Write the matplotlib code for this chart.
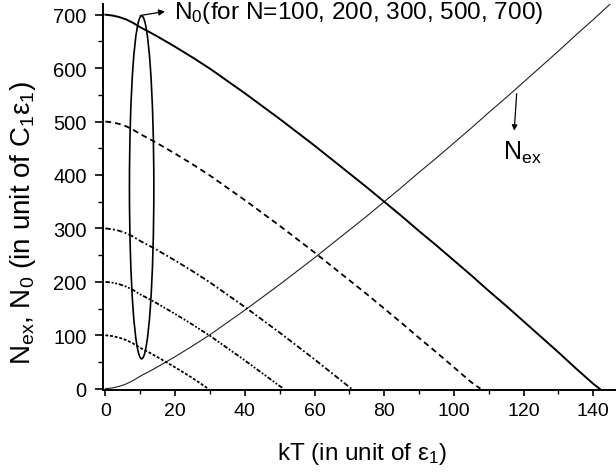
import matplotlib
matplotlib.use("Agg")
import matplotlib.pyplot as plt
from matplotlib.patches import Ellipse

plt.rcParams['font.family'] = ['Liberation Sans', 'DejaVu Sans']
plt.rcParams['mathtext.fontset'] = 'custom'
plt.rcParams['mathtext.rm'] = 'Liberation Sans'
plt.rcParams['mathtext.it'] = 'Liberation Sans'
plt.rcParams['mathtext.default'] = 'regular'

# ---- data ----
kT = [0, 2, 4, 6, 8, 10, 12.5, 15, 20, 25, 30, 35, 40, 45, 50, 55, 60, 65,
      70, 75, 80, 85, 90, 95, 100, 105, 110, 115, 120, 125, 130, 135, 140, 145]
N_ex = [0, 1.5, 4.5, 9, 15.5, 23.5, 32, 41, 60, 80, 101, 124, 147, 171, 195,
        220, 245, 271, 297, 323, 350, 377, 405, 432, 460, 488, 517, 545, 574,
        603, 632, 662, 691, 721]

kT_100 = [0, 2, 4, 6, 8, 10, 12.5, 15, 20, 25, 29.5]
N0_100 = [100, 98.5, 95.5, 91, 84.5, 76.5, 68, 59, 40, 20, 0]

kT_200 = [0, 2, 4, 6, 8, 10, 12.5, 15, 20, 25, 30, 35, 40, 45, 50, 51.2]
N0_200 = [200, 198.5, 195.5, 191, 184.5, 176.5, 168, 159, 140, 120, 99, 76,
          53, 29, 5, 0]

kT_300 = [0, 2, 4, 6, 8, 10, 12.5, 15, 20, 25, 30, 35, 40, 45, 50, 55, 60,
          65, 70, 70.6]
N0_300 = [300, 298.5, 295.5, 291, 284.5, 276.5, 268, 259, 240, 220, 199, 176,
          153, 129, 105, 80, 55, 29, 3, 0]

kT_500 = [0, 2, 4, 6, 8, 10, 12.5, 15, 20, 25, 30, 35, 40, 45, 50, 55, 60,
          65, 70, 75, 80, 85, 90, 95, 100, 105, 107.6]
N0_500 = [500, 498.5, 495.5, 491, 484.5, 476.5, 468, 459, 440, 420, 399, 376,
          353, 329, 305, 280, 255, 229, 203, 177, 150, 123, 95, 68, 40, 12, 0]

kT_700 = [0, 2, 4, 6, 8, 10, 12.5, 15, 20, 25, 30, 35, 40, 45, 50, 55, 60,
          65, 70, 75, 80, 85, 90, 95, 100, 105, 110, 115, 120, 125, 130, 135,
          140, 141.8]
N0_700 = [700, 698.5, 695.5, 691, 684.5, 676.5, 668, 659, 640, 620, 599, 576,
          553, 529, 505, 480, 455, 429, 403, 377, 350, 323, 295, 268, 240, 212,
          183, 155, 126, 97, 68, 38, 9, 0]

x_ticks = [0, 20, 40, 60, 80, 100, 120, 140]
y_ticks = [0, 100, 200, 300, 400, 500, 600, 700]

fig = plt.figure(figsize=(6.16, 4.77), dpi=100)
ax = fig.add_axes([0.1677, 0.1803, 0.8323, 0.8092])

ax.plot(kT, N_ex, color='#222222', lw=0.8)
ax.plot(kT_700, N0_700, color='black', lw=1.4, ls='-')
ax.plot(kT_500, N0_500, color='black', lw=1.3, ls=(0, (3.2, 2.2)))
ax.plot(kT_300, N0_300, color='black', lw=1.3, ls=(0, (3.0, 1.3, 1.0, 1.3)))
ax.plot(kT_200, N0_200, color='black', lw=1.3,
        ls=(0, (2.5, 1.0, 1.0, 1.0, 1.0, 1.0)))
ax.plot(kT_100, N0_100, color='black', lw=1.3, ls=(0, (1.6, 1.0)))

ell = Ellipse((10.4, 377), width=7.0, height=642, fill=False,
              edgecolor='black', lw=1.2)
ax.add_patch(ell)

ax.annotate('', xy=(17.1, 706), xytext=(10.0, 698.5),
            arrowprops=dict(arrowstyle='-|>', color='black', lw=0.9,
                            mutation_scale=9, shrinkA=0, shrinkB=0))
ax.text(19.6, 694, 'N$_0$(for N=100, 200, 300, 500, 700)', fontsize=17.6,
        va='baseline', ha='left')

ax.annotate('', xy=(117.3, 483), xytext=(118.0, 552),
            arrowprops=dict(arrowstyle='-|>', color='black', lw=0.9,
                            mutation_scale=8, shrinkA=0, shrinkB=0))
ax.text(114.0, 430, 'N$_{ex}$', fontsize=18, va='baseline', ha='left')

ax.set_xlim(-0.6, 146.5)
ax.set_ylim(-2.4, 720)
ax.set_xticks(x_ticks)
ax.set_yticks(y_ticks)
ax.set_xticks(range(10, 150, 20), minor=True)
ax.set_yticks(range(50, 700, 100), minor=True)
ax.tick_params(axis='x', which='major', direction='out', length=4.5, width=1.2,
               labelsize=14, pad=4.5)
ax.tick_params(axis='x', which='minor', direction='out', length=3, width=1.0)
ax.tick_params(axis='y', which='major', direction='out', length=6, width=1.2,
               labelsize=14.5, pad=6)
ax.tick_params(axis='y', which='minor', direction='out', length=3.5, width=1.0)
for s in ['top', 'right']:
    ax.spines[s].set_visible(False)
for s in ['left', 'bottom']:
    ax.spines[s].set_linewidth(1.4)

ax.set_xlabel('kT (in unit of ε$_1$)', fontsize=17.5)
ax.set_ylabel('N$_{ex}$, N$_0$ (in unit of C$_1$ε$_1$)', fontsize=20)
ax.xaxis.set_label_coords(0.505, -0.1295)
ax.yaxis.set_label_coords(-0.127, 0.435)

fig.savefig('out.png', dpi=100)
